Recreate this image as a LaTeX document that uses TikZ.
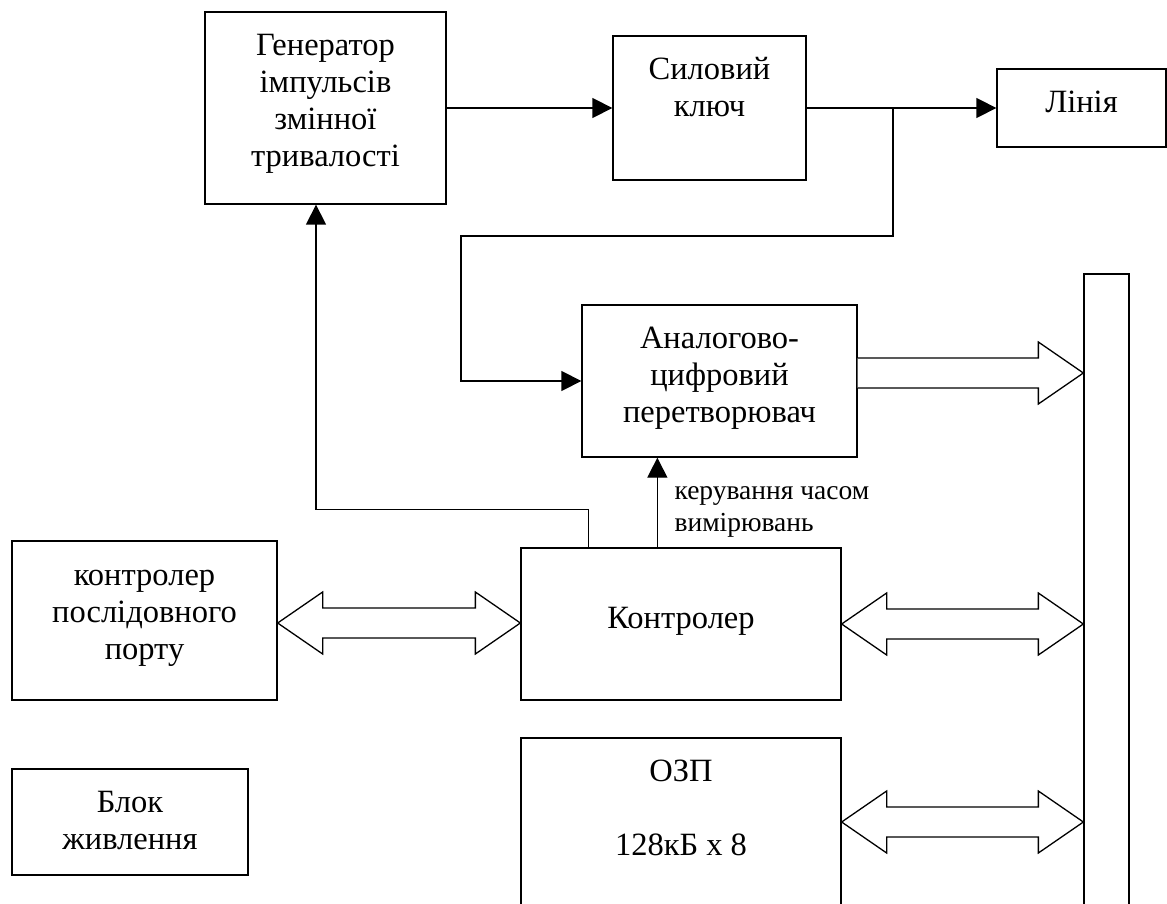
\documentclass[tikz,border=0pt]{standalone}
\usepackage{fontspec}
\setmainfont{Liberation Serif}
\usetikzlibrary{arrows.meta,positioning,calc}

% top-aligned text lines
\newcommand{\clines}[1]{\begin{tabular}[t]{@{}c@{}}#1\end{tabular}}
\newcommand{\llines}[1]{\begin{tabular}[t]{@{}l@{}}#1\end{tabular}}
% hollow block arrows to the bus
\newcommand{\busarrow}[2]{%
  \draw[fat] let \p1=#1, \p2=#2 in
    (\x1,\y1+15pt) -- (\x2-45pt,\y1+15pt) -- (\x2-45pt,\y1+31pt) -- (\x2,\y1)
    -- (\x2-45pt,\y1-31pt) -- (\x2-45pt,\y1-15pt) -- (\x1,\y1-15pt);}
\newcommand{\dblarrow}[2]{%
  \draw[fat] let \p1=#1, \p2=#2 in
    (\x1,\y1) -- (\x1+45pt,\y1+31pt) -- (\x1+45pt,\y1+15pt) -- (\x2-45pt,\y1+15pt)
    -- (\x2-45pt,\y1+31pt) -- (\x2,\y1) -- (\x2-45pt,\y1-31pt) -- (\x2-45pt,\y1-15pt)
    -- (\x1+45pt,\y1-15pt) -- (\x1+45pt,\y1-31pt) -- cycle;}

\begin{document}
\begin{tikzpicture}[x=1pt,y=-1pt,
    blk/.style={draw, line width=1.3pt, inner sep=0pt},
    txt/.style={inner sep=0pt, font=\fontsize{32.5}{37}\selectfont},
    lbl/.style={inner sep=0pt, font=\fontsize{27.5}{32}\selectfont},
    conn/.style={line width=1.3pt, -{Triangle[length=20pt,width=20pt]}},
    fat/.style={line width=1.3pt, fill=white}]
  \useasboundingbox (0,0) rectangle (1167,904);

  % blocks
  \node[blk, minimum width=241pt, minimum height=192pt] (gen) at (325.5,108) {};
  \node[blk, minimum width=193pt, minimum height=144pt] (key) at (709.5,108) {};
  \node[blk, minimum width=169pt, minimum height=78pt] (line) at (1081.5,108) {};
  \node[blk, minimum width=275pt, minimum height=152pt] (adc) at (719.5,381) {};
  \node[blk, minimum width=45pt, minimum height=640pt] (bus) at (1106.5,594) {};
  \node[blk, minimum width=320pt, minimum height=152pt] (ctrl) at (681,624) {};
  \node[blk, minimum width=265pt, minimum height=159pt] (port) at (144.5,620.5) {};
  \node[blk, minimum width=320pt, minimum height=182pt] (ram) at (681,829) {};
  \node[blk, minimum width=236pt, minimum height=106pt] (pwr) at (130,822) {};

  \node[txt, below=18pt of gen.north] (gentxt) {\clines{Генератор\\імпульсів\\змінної\\тривалості}};
  \node[txt, below=18pt of key.north] (keytxt) {\clines{Силовий\\ключ}};
  \node[txt, below=18pt of line.north] (linetxt) {\clines{Лінія}};
  \node[txt, below=18pt of adc.north] (adctxt) {\clines{Аналогово-\\цифровий\\перетворювач}};
  \node[txt, below=55pt of ctrl.north] (ctrltxt) {\clines{Контролер}};
  \node[txt, below=19pt of port.north] (porttxt) {\clines{контролер\\послідовного\\порту}};
  \node[txt, below=18pt of ram.north] (ramtxt) {\clines{ОЗП\\[37pt]128кБ x 8}};
  \node[txt, below=18pt of pwr.north] (pwrtxt) {\clines{Блок\\живлення}};

  % signal lines
  \draw[conn] (gen.east) -- (key.west);
  \draw[conn] (key.east) -- (line.west);
  \coordinate (tap) at (893,108);
  \draw[conn] (tap) |- (461,236) |- (adc.west);
  \coordinate (c1) at ($(ctrl.north west)+(68,0)$);
  \coordinate (c2) at ($(ctrl.north west)+(137,0)$);
  \draw[conn] (c1) -- ++(0,-38) -| ($(gen.south)+(-9.5,0)$);
  \draw[conn] (c2) -- (c2 |- adc.south);
  \node[lbl, anchor=north west] (ctrllbl) at ($(c2)+(17,-70)$) {\llines{керування часом\\вимірювань}};

  % data buses
  \busarrow{($(adc.east)+(0,-8)$)}{(bus.west)}
  \dblarrow{($(port.east)+(0,2.5)$)}{(ctrl.west)}
  \dblarrow{(ctrl.east)}{(bus.west)}
  \dblarrow{($(ram.east)+(0,-7)$)}{(bus.west)}
\end{tikzpicture}
\end{document}
